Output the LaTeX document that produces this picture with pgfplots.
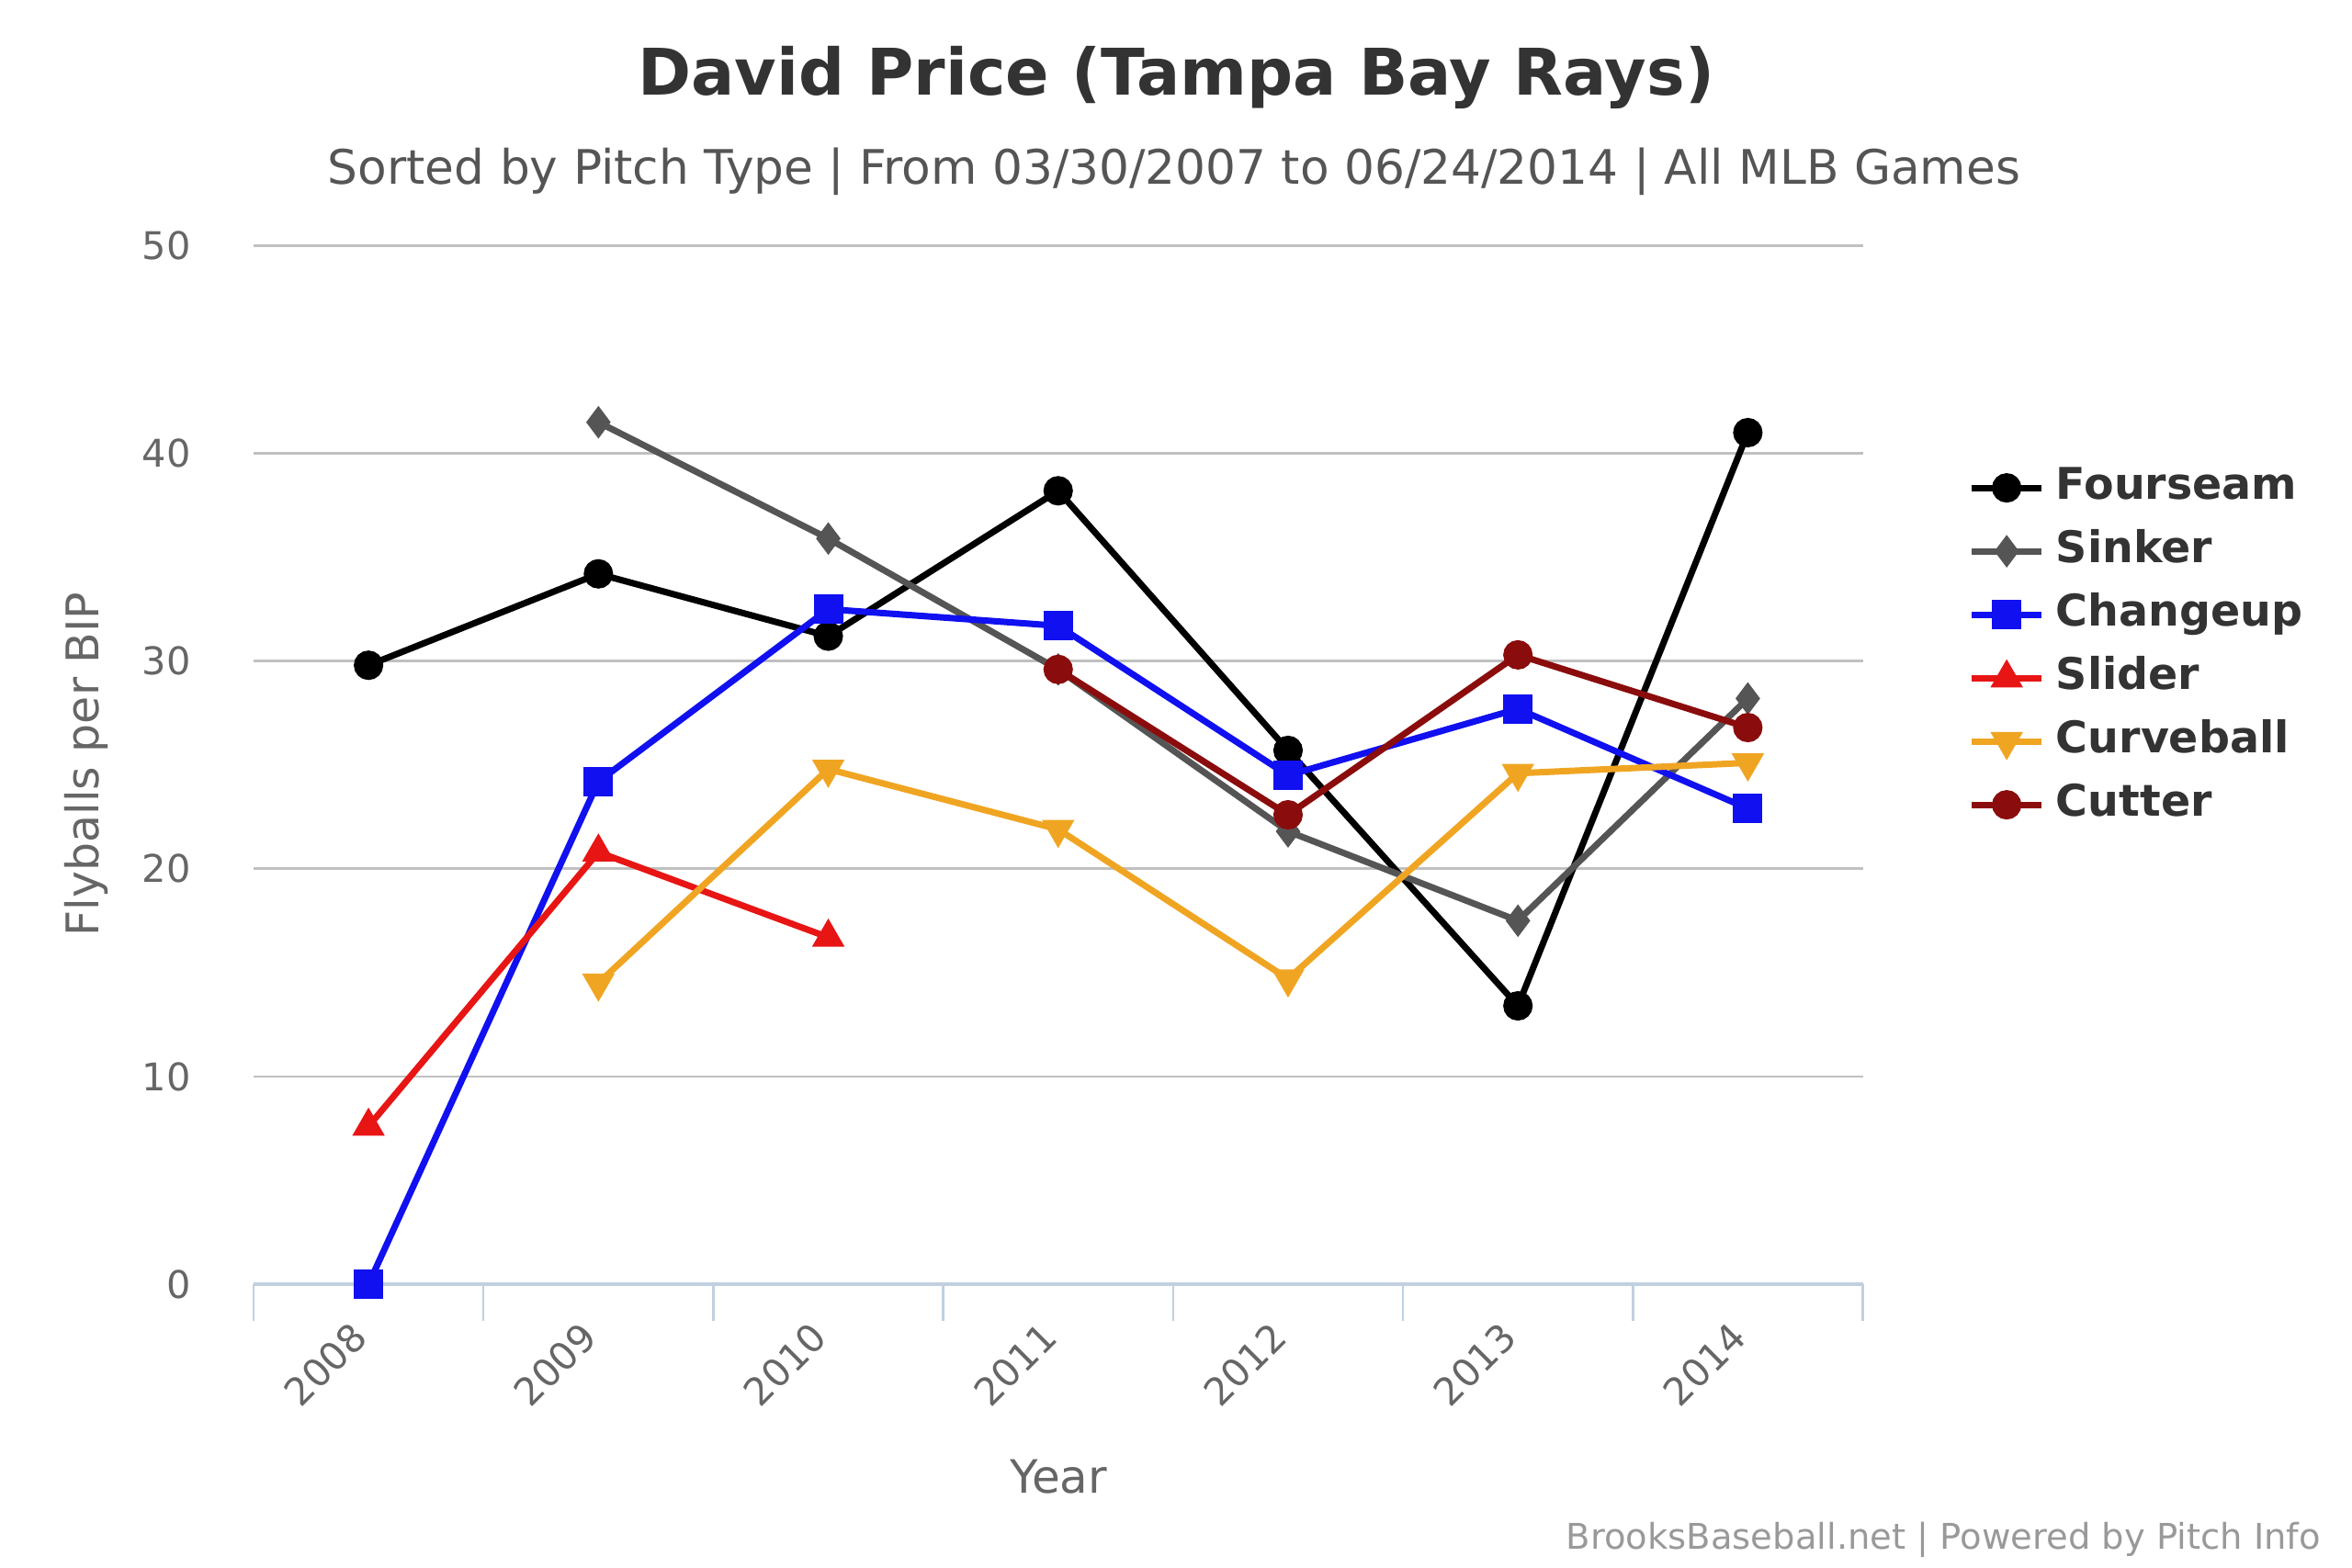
\documentclass[border=0pt]{standalone}
\usepackage{fontspec}
\setmainfont{DejaVu Sans}
\usepackage{pgfplots}
\pgfplotsset{compat=1.18}
\definecolor{titlegray}{HTML}{333333}
\definecolor{subgray}{HTML}{555555}
\definecolor{labgray}{HTML}{666666}
\definecolor{gridgray}{HTML}{C0C0C0}
\definecolor{axisblue}{HTML}{C0D0E0}
\definecolor{sinkergray}{HTML}{555555}
\definecolor{cblue}{HTML}{1010F0}
\definecolor{sred}{HTML}{E81515}
\definecolor{corange}{HTML}{F0A522}
\definecolor{cutred}{HTML}{8B0C0C}
\begin{document}
\begin{tikzpicture}
\useasboundingbox (0,0) rectangle (512bp,341.4bp);
\begin{axis}[
  at={(55.2bp,61.8bp)}, anchor=south west,
  scale only axis, width=350.3bp, height=226.1bp,
  xmin=-0.5, xmax=6.5, ymin=0, ymax=50,
  ytick={0,10,...,50},
  xtick={0,...,6},
  xticklabels={2008,2009,2010,2011,2012,2013,2014},
  minor xtick={-0.5,0.5,...,6.5},
  major tick length=0pt, minor tick length=8bp,
  tick align=outside,
  minor tick style={color=axisblue, line width=0.5bp},
  axis x line*=bottom, axis y line*=left,
  x axis line style={-, color=axisblue, line width=0.8bp},
  y axis line style={draw=none},
  ymajorgrids, grid style={color=gridgray, line width=0.55bp},
  /pgf/number format/assume math mode=true,
  tick label style={font=\fontsize{8.3bp}{10bp}\selectfont, color=labgray},
  yticklabel style={anchor=east, inner sep=0pt, xshift=-13.5bp},
  xticklabel style={anchor=east, inner sep=0pt, xshift=-1.8bp, yshift=-9.9bp, rotate=45},
  clip=false,
  every axis plot/.append style={line width=1.4bp},
  legend cell align=left,
  legend style={at={(1.0565,0.807)}, anchor=north west, draw=none, fill=none,
    font=\bfseries\fontsize{9.5bp}{11bp}\selectfont, text=titlegray,
    nodes={text height=7bp, text depth=2bp, inner sep=2.4bp}},
  legend image code/.code={\draw[mark repeat=2,mark phase=2,#1] plot coordinates {(0bp,0bp) (7.65bp,0bp) (15.3bp,0bp)};},
]
\addplot[black, mark=*, mark size=2.5bp] coordinates {(0,29.8)(1,34.2)(2,31.2)(3,38.2)(4,25.7)(5,13.4)(6,41.0)};
\addlegendentry{Fourseam}
\addplot[sinkergray, mark=diamond*, mark size=2.4bp] coordinates {(1,41.5)(2,35.9)(3,29.6)(4,21.8)(5,17.5)(6,28.2)};
\addlegendentry{Sinker}
\addplot[cblue, mark=square*, mark size=2.5bp] coordinates {(0,0)(1,24.2)(2,32.5)(3,31.7)(4,24.5)(5,27.7)(6,22.9)};
\addlegendentry{Changeup}
\addplot[sred, mark=triangle*, mark size=2.7bp] coordinates {(0,7.6)(1,20.8)(2,16.7)};
\addlegendentry{Slider}
\addplot[corange, mark=triangle*, mark size=2.7bp, mark options={rotate=180}] coordinates {(1,14.5)(2,24.8)(3,21.9)(4,14.7)(5,24.6)(6,25.1)};
\addlegendentry{Curveball}
\addplot[cutred, mark=*, mark size=2.5bp] coordinates {(3,29.6)(4,22.6)(5,30.3)(6,26.8)};
\addlegendentry{Cutter}
\end{axis}
\node[font=\bfseries\fontsize{14bp}{17bp}\selectfont, text=titlegray] at (256bp,324.6bp) {David Price (Tampa Bay Rays)};
\node[font=\fontsize{10.35bp}{12bp}\selectfont, text=subgray] at (255.6bp,304bp) {Sorted by Pitch Type | From 03/30/2007 to 06/24/2014 | All MLB Games};
\node[font=\fontsize{10bp}{12bp}\selectfont, text=labgray] at (230.4bp,19.8bp) {Year};
\node[font=\fontsize{9.8bp}{12bp}\selectfont, text=labgray, rotate=90] at (18.7bp,175bp) {Flyballs per BIP};
\node[font=\fontsize{7.7bp}{9bp}\selectfont, text=gray!80, anchor=east, inner sep=0pt] at (505.4bp,6.2bp) {BrooksBaseball.net | Powered by Pitch Info};
\end{tikzpicture}
\end{document}
